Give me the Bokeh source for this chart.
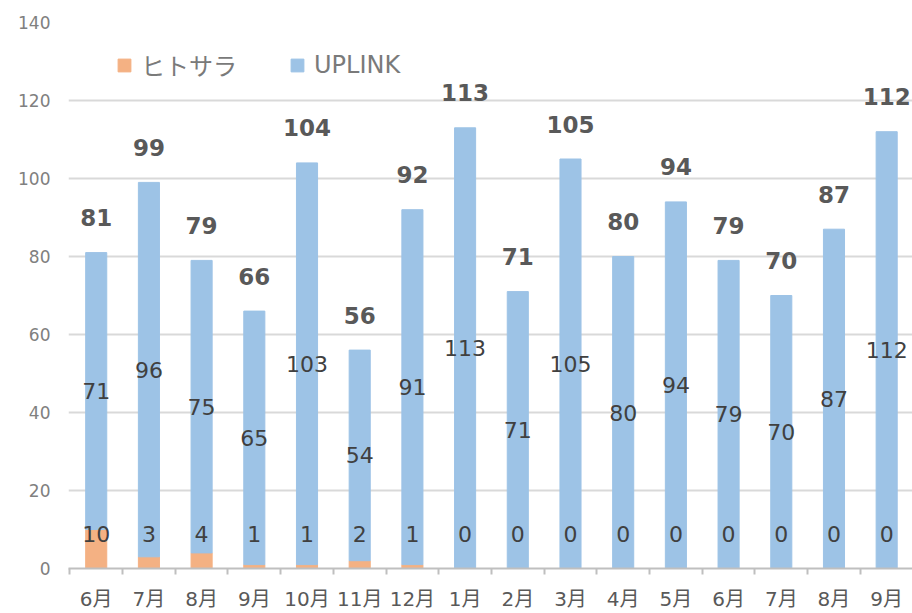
from bokeh.plotting import figure
from bokeh.models import ColumnDataSource, FixedTicker, Legend, LegendItem, Range1d
from bokeh.embed import file_html
from bokeh.resources import INLINE
from bokeh.core.properties import value

# ---- data ----
months = ["6月", "7月", "8月", "9月", "10月", "11月", "12月", "1月",
          "2月", "3月", "4月", "5月", "6月", "7月", "8月", "9月"]
hitosara = [10, 3, 4, 1, 1, 2, 1, 0, 0, 0, 0, 0, 0, 0, 0, 0]
uplink = [71, 96, 75, 65, 103, 54, 91, 113, 71, 105, 80, 94, 79, 70, 87, 112]
series_names = ["ヒトサラ", "UPLINK"]
y_ticks = [0, 20, 40, 60, 80, 100, 120, 140]

# ---- derived ----
n = len(months)
xs = list(range(n))
totals = [a + b for a, b in zip(hitosara, uplink)]
src = ColumnDataSource(dict(
    x=xs,
    hito=hitosara,
    up=uplink,
    total=totals,
    up_mid=[a + b / 2 for a, b in zip(hitosara, uplink)],
    base=[0] * n,
    hito_lbl=[str(v) for v in hitosara],
    up_lbl=[str(v) for v in uplink],
    tot_lbl=[str(v) for v in totals],
))

ORANGE = "#F4B183"
BLUE = "#9DC3E6"
NUM_FONT = "DejaVu Sans"
JP_FONT = "DejaVu Sans, Noto Sans CJK JP"

p = figure(width=912, height=613, output_backend="svg", toolbar_location=None,
           x_range=Range1d(-0.526, 15.49), y_range=Range1d(0, 140),
           min_border_left=68, min_border_right=0, min_border_top=22,
           min_border_bottom=45)
p.outline_line_color = None
p.background_fill_color = "white"
p.border_fill_color = "white"

rs = p.vbar_stack(["hito", "up"], x="x", width=0.40, color=[ORANGE, BLUE],
                  source=src)

# labels
p.text(x="x", y="base", text="hito_lbl", source=src, text_align="center",
       text_baseline="middle", y_offset=-35, text_font=value(NUM_FONT),
       text_font_size="22px", text_color="#404040")
p.text(x="x", y="up_mid", text="up_lbl", source=src, text_align="center",
       text_baseline="middle", text_font=value(NUM_FONT),
       text_font_size="22px", text_color="#404040")
p.text(x="x", y="total", text="tot_lbl", source=src, text_align="center",
       text_baseline="middle", y_offset=-35, text_font=value(NUM_FONT),
       text_font_style="bold", text_font_size="23px", text_color="#595959")

# grid
p.xgrid.visible = False
p.ygrid.grid_line_color = "#d9d9d9"
p.ygrid.grid_line_width = 2

# y axis
p.yaxis.ticker = FixedTicker(ticks=y_ticks)
p.yaxis.axis_line_color = None
p.yaxis.major_tick_line_color = None
p.yaxis.minor_tick_line_color = None
p.yaxis.major_label_text_font = NUM_FONT
p.yaxis.major_label_text_font_size = "17px"
p.yaxis.major_label_text_color = "#808080"
p.yaxis.major_label_standoff = 12

# x axis
p.xaxis.ticker = FixedTicker(ticks=xs, minor_ticks=[i - 0.5 for i in range(n + 1)])
p.xaxis.major_label_overrides = {i: m for i, m in enumerate(months)}
p.xaxis.major_tick_line_color = None
p.xaxis.major_tick_out = 0
p.xaxis.major_tick_in = 0
p.xaxis.minor_tick_out = 6
p.xaxis.minor_tick_in = 0
p.xaxis.minor_tick_line_color = "#bfbfbf"
p.xaxis.minor_tick_line_width = 2
p.xaxis.axis_line_color = "#bfbfbf"
p.xaxis.axis_line_width = 2
p.xaxis.major_label_text_font = JP_FONT
p.xaxis.major_label_text_font_size = "20px"
p.xaxis.major_label_text_color = "#595959"
p.xaxis.major_label_standoff = 12

legend = Legend(items=[LegendItem(label=series_names[0], renderers=[rs[0]]),
                       LegendItem(label=series_names[1], renderers=[rs[1]])],
                orientation="horizontal", location=(48, 486), padding=0,
                margin=0, spacing=52, label_standoff=9, glyph_width=16,
                glyph_height=16, label_text_font=JP_FONT,
                label_text_font_size="24px", label_text_color="#7a7a7a",
                border_line_color=None, background_fill_color=None)
p.add_layout(legend)

open("out.html", "w").write(file_html(p, INLINE))
